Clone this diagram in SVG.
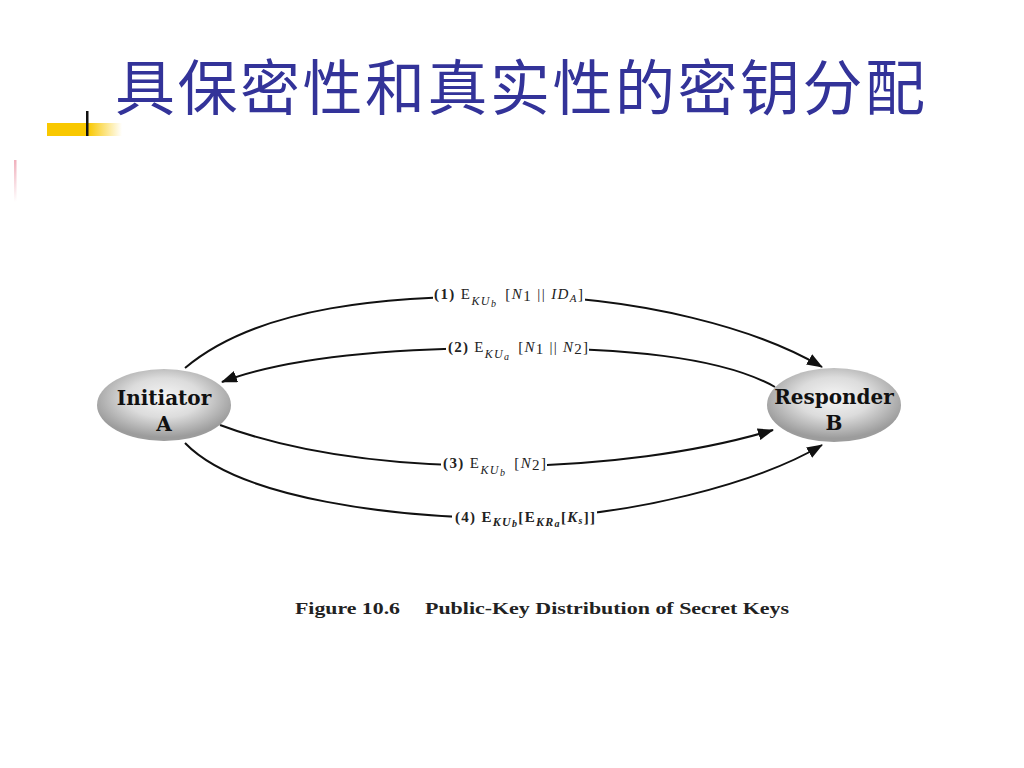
<svg xmlns="http://www.w3.org/2000/svg" width="1024" height="768" viewBox="0 0 1024 768">
<style>
.title{font-family:"Noto Sans CJK SC","Noto Sans CJK JP",sans-serif;font-size:60px;fill:#333399}
.node{font-family:"DejaVu Serif","Liberation Serif",serif;font-weight:bold;font-size:20px;fill:#111}
.lbl{font-family:"Liberation Serif",serif;font-size:15px;fill:#222}
.lblb{font-family:"Liberation Serif",serif;font-size:15px;font-weight:bold;fill:#222}
.it{font-style:italic}
.cap{font-family:"Liberation Serif",serif;font-weight:bold;font-size:17px;fill:#222}
.edge{fill:none;stroke:#111;stroke-width:2}
</style>
<defs>
<linearGradient id="ybar" x1="0" y1="0" x2="1" y2="0">
<stop offset="0" stop-color="#f9c800"/>
<stop offset="0.55" stop-color="#f9c800"/>
<stop offset="1" stop-color="#f9c800" stop-opacity="0"/>
</linearGradient>
<linearGradient id="pink" x1="0" y1="0" x2="0" y2="1">
<stop offset="0" stop-color="#f0b0bc"/>
<stop offset="1" stop-color="#f0b0bc" stop-opacity="0"/>
</linearGradient>
<radialGradient id="ell" cx="50%" cy="40%" r="55%">
<stop offset="0" stop-color="#f6f6f6"/>
<stop offset="0.5" stop-color="#dcdcdc"/>
<stop offset="1" stop-color="#9c9c9c"/>
</radialGradient>
<marker id="arr" markerUnits="userSpaceOnUse" markerWidth="16" markerHeight="12" refX="15" refY="6" orient="auto">
<path d="M0,0 L16,6 L0,12 Z" fill="#111"/>
</marker>
</defs>
<rect width="1024" height="768" fill="#fff"/>
<g id="decor">
<rect x="47" y="123" width="75" height="13" fill="url(#ybar)"/>
<rect x="86" y="111" width="2.5" height="25" fill="#111"/>
<rect x="14" y="160" width="2.5" height="42" fill="url(#pink)"/>
</g>
<text id="title" class="title" x="115" y="110" textLength="810" lengthAdjust="spacing">具保密性和真实性的密钥分配</text>
<g id="connectors">
<path class="edge" d="M185,368 C260,305 390,296 510,296 C640,296 760,330 822,367" marker-end="url(#arr)"/>
<path class="edge" d="M775,387 C720,356 620,348 510,348 C400,348 290,356 222,382" marker-end="url(#arr)"/>
<path class="edge" d="M220,425 C300,455 400,466 500,466 C600,466 700,452 773,430" marker-end="url(#arr)"/>
<path class="edge" d="M185,443 C240,500 400,518 510,518 C630,518 760,482 822,445" marker-end="url(#arr)"/>
<rect x="433" y="286" width="152" height="24" fill="#fff"/>
<rect x="446" y="338" width="143" height="24" fill="#fff"/>
<rect x="441" y="455" width="106" height="22" fill="#fff"/>
<rect x="452" y="506" width="145" height="24" fill="#fff"/>
<text class="lbl" x="434" y="299" textLength="149" lengthAdjust="spacing"><tspan font-weight="bold">(1)</tspan> E<tspan class="it" font-size="12" dy="6">KU</tspan><tspan class="it" font-size="10" dy="2">b</tspan><tspan dy="-8" dx="8">[</tspan><tspan class="it">N</tspan><tspan dy="2">1</tspan><tspan dy="-2"> || </tspan><tspan class="it">ID</tspan><tspan class="it" font-size="11" dy="3">A</tspan><tspan dy="-3">]</tspan></text>
<text class="lbl" x="448" y="352" textLength="140" lengthAdjust="spacing"><tspan font-weight="bold">(2)</tspan> E<tspan class="it" font-size="12" dy="6">KU</tspan><tspan class="it" font-size="10" dy="2">a</tspan><tspan dy="-8" dx="8">[</tspan><tspan class="it">N</tspan><tspan dy="2">1</tspan><tspan dy="-2"> || </tspan><tspan class="it">N</tspan><tspan dy="2">2</tspan><tspan dy="-2">]</tspan></text>
<text class="lbl" x="443" y="468" textLength="103" lengthAdjust="spacing"><tspan font-weight="bold">(3)</tspan> E<tspan class="it" font-size="12" dy="6">KU</tspan><tspan class="it" font-size="10" dy="2">b</tspan><tspan dy="-8" dx="8">[</tspan><tspan class="it">N</tspan><tspan dy="2">2</tspan><tspan dy="-2">]</tspan></text>
<text class="lblb" x="455" y="522" textLength="140" lengthAdjust="spacing">(4) E<tspan class="it" font-size="12" dy="4">KU</tspan><tspan class="it" font-size="10" dy="1">b</tspan><tspan dy="-5">[E</tspan><tspan class="it" font-size="12" dy="4">KR</tspan><tspan class="it" font-size="10" dy="1">a</tspan><tspan dy="-5">[</tspan><tspan class="it">K</tspan><tspan class="it" font-size="10" dy="2">s</tspan><tspan dy="-2">]]</tspan></text>
</g>
<g id="nodeA">
<ellipse cx="164" cy="405" rx="67" ry="36" fill="url(#ell)"/>
<text class="node" x="164" y="405" text-anchor="middle">Initiator</text>
<text class="node" x="164" y="431" text-anchor="middle">A</text>
</g>
<g id="nodeB">
<ellipse cx="834" cy="405" rx="67" ry="37" fill="url(#ell)"/>
<text class="node" x="834" y="404" text-anchor="middle">Responder</text>
<text class="node" x="834" y="430" text-anchor="middle">B</text>
</g>
<g id="caption">
<text class="cap" x="295" y="614" textLength="105" lengthAdjust="spacingAndGlyphs">Figure 10.6</text>
<text class="cap" x="425" y="614" textLength="364" lengthAdjust="spacingAndGlyphs">Public-Key Distribution of Secret Keys</text>
</g>
</svg>
